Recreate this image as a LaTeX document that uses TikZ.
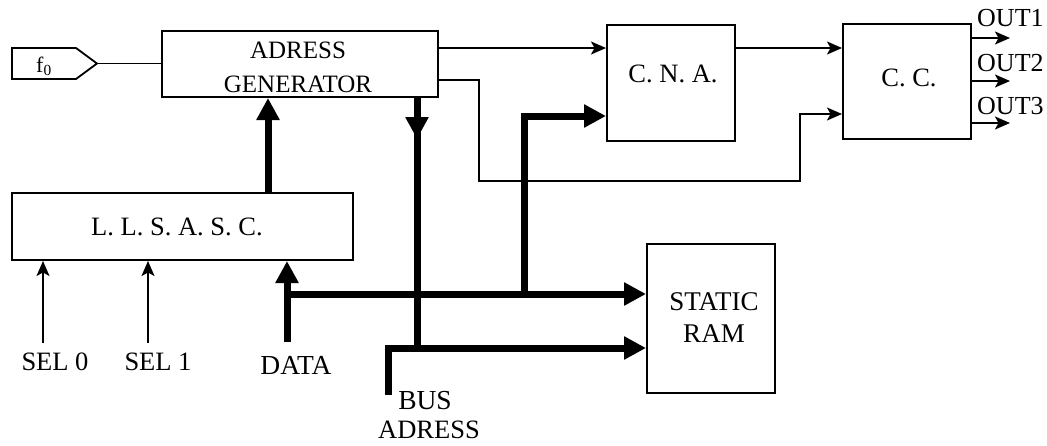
\documentclass[tikz,border=0pt]{standalone}
\usepackage{fontspec}
\setmainfont{Liberation Serif}
\usetikzlibrary{arrows.meta}
\begin{document}
\begin{tikzpicture}[x=1pt,y=-1pt,
  box/.style={draw,line width=2pt,inner sep=0pt},
  thinline/.style={line width=1.8pt},
  thinarrow/.style={line width=1.8pt,-{Stealth[length=15pt,width=13pt,inset=3.5pt]}},
  busline/.style={line width=7pt,line join=miter,line cap=butt},
  busarrow/.style={busline,-{Triangle[length=22pt,width=22pt]}},
  lbl/.style={inner sep=0pt,font=\fontsize{26.5}{30}\selectfont,align=center}]
\useasboundingbox (0,0) rectangle (1047,445);
% boxes
\node[box,minimum width=276pt,minimum height=66pt] (ag) at (300,64) {};
\node[lbl,font=\fontsize{25}{34}\selectfont] (agl) at (298,67) {ADRESS\\GENERATOR};
\node[box,minimum width=341pt,minimum height=67pt] (ll) at (182.5,226.5) {};
\node[lbl] (lll) at (177,227) {L. L. S. A. S. C.};
\node[box,minimum width=128pt,minimum height=116pt] (cna) at (671,83) {};
\node[lbl] (cnal) at (673,73.5) {C. N. A.};
\node[box,minimum width=128pt,minimum height=115pt] (cc) at (907,81.5) {};
\node[lbl] (ccl) at (909,78) {C. C.};
\node[box,minimum width=128pt,minimum height=149pt] (ram) at (711,318.5) {};
\node[lbl,font=\fontsize{27}{32}\selectfont] (raml) at (714,317.5) {STATIC\\RAM};
% f0 input
\draw[line width=1.8pt,line join=miter] (12,48) -- (76,48) -- (97,63.5) -- (76,79) -- (12,79) -- cycle;
\coordinate (f0tip) at (97,63.5);
\node[inner sep=0pt,font=\fontsize{22}{24}\selectfont] (f0) at (44,66) {f\textsubscript{0}};
\draw[thinline] (f0tip) -- (f0tip -| ag.west);
% helper coordinates
\coordinate (y48) at (0,48);
\coordinate (y80) at (0,80);
\coordinate (y114) at (0,114);
\coordinate (y116) at (0,116);
\coordinate (y294) at (0,294);
\coordinate (y348) at (0,348);
% AG -> CNA
\draw[thinarrow] (ag.east |- y48) -- (cna.west |- y48);
% CNA -> CC
\draw[thinarrow] (cna.east |- y48) -- (cc.west |- y48);
% AG -> CC lower
\coordinate (k1) at (479,80);
\coordinate (k2) at (479,181);
\coordinate (k3) at (800,181);
\coordinate (k4) at (800,114);
\draw[thinarrow,line join=miter] (ag.east |- y80) -- (k1) -- (k2) -- (k3) -- (k4) -- (cc.west |- y114);
% outputs
\coordinate (o1) at (1010,38);
\coordinate (o2) at (1010,81);
\coordinate (o3) at (1010,123);
\draw[thinarrow] (cc.east |- o1) -- (o1);
\draw[thinarrow] (cc.east |- o2) -- (o2);
\draw[thinarrow] (cc.east |- o3) -- (o3);
\node[lbl,anchor=west,font=\fontsize{26}{28}\selectfont] (out1) at (977,18.5) {OUT1};
\node[lbl,anchor=west,font=\fontsize{26}{28}\selectfont] (out2) at (977,63.5) {OUT2};
\node[lbl,anchor=west,font=\fontsize{26}{28}\selectfont] (out3) at (977,106.5) {OUT3};
% LLSASC -> AG
\coordinate (llup) at (268,193);
\draw[busarrow] (llup) -- (llup |- ag.south);
% SEL inputs
\coordinate (s0) at (43,343);
\coordinate (s1) at (148,343);
\draw[thinarrow] (s0) -- (s0 |- ll.south);
\draw[thinarrow] (s1) -- (s1 |- ll.south);
\node[lbl] (sel0) at (55,362) {SEL 0};
\node[lbl] (sel1) at (158,362) {SEL 1};
% DATA bus
\coordinate (d0) at (287,342);
\draw[busarrow] (d0) -- (d0 |- ll.south);
\coordinate (d1) at (287,294);
\draw[busarrow] (d1) -- (ram.west |- y294);
\coordinate (j1) at (524,294);
\draw[busarrow] (j1) -- (524,116) -- (cna.west |- y116);
\node[lbl,font=\fontsize{27.5}{30}\selectfont] (data) at (296,365) {DATA};
% address bus
\coordinate (a0) at (417,97);
\draw[busline] (a0) -- (417,351.5);
\draw[busarrow] (a0) -- (417,139);
\coordinate (b0) at (388,395);
\draw[busarrow] (b0) -- (388,348) -- (ram.west |- y348);
\node[lbl,font=\fontsize{27.5}{30}\selectfont] (bus) at (425,401) {BUS};
\node[lbl] (adr) at (429,430) {ADRESS};
\end{tikzpicture}
\end{document}
